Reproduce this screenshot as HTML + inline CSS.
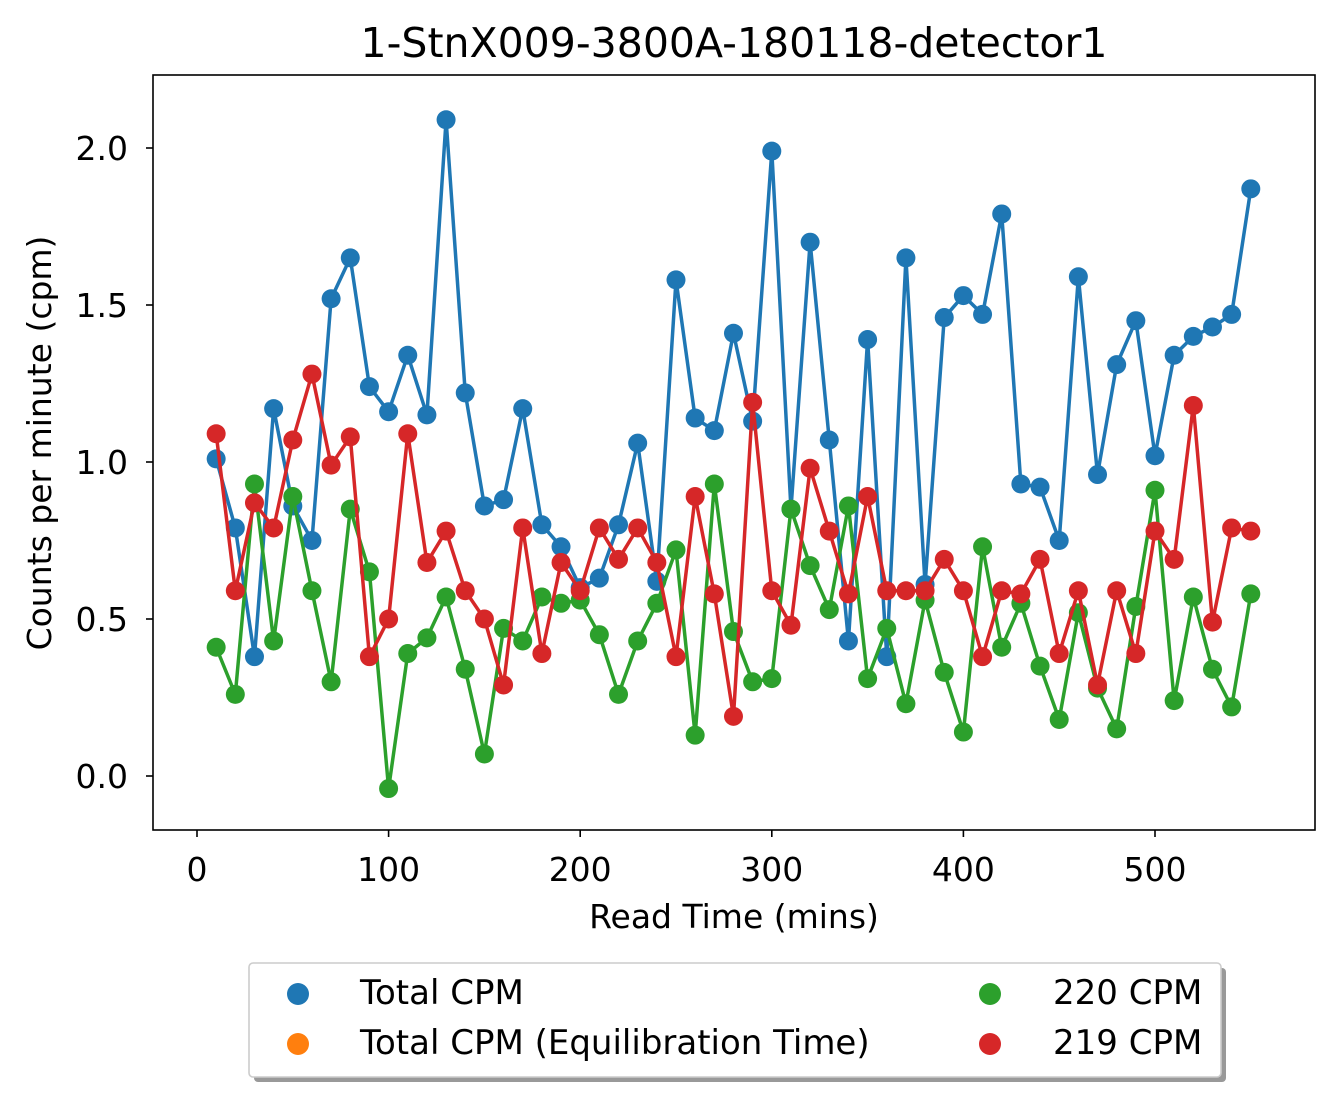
<!DOCTYPE html>
<html><head><meta charset="utf-8"><style>
body{margin:0;background:#fff}
svg{display:block;font-family:"DejaVu Sans","Liberation Sans",sans-serif}
</style></head><body>
<svg id="chart" width="1343" height="1100">
<rect x="0" y="0" width="1343" height="1100" fill="#fff"/>
<text x="734" y="57" font-size="41" text-anchor="middle">1-StnX009-3800A-180118-detector1</text>
<g id="plot"></g>
<rect x="153" y="75" width="1162" height="755" fill="none" stroke="#000" stroke-width="1.6"/>
<g id="xticks"></g>
<g id="yticks"></g>
<text x="734" y="928" font-size="33" text-anchor="middle">Read Time (mins)</text>
<text transform="translate(51,443) rotate(-90)" font-size="33" text-anchor="middle">Counts per minute (cpm)</text>
<g>
<rect x="254" y="968" width="972" height="114" rx="4" fill="#999"/>
<rect x="249" y="963" width="972" height="114" rx="4" fill="#fff" stroke="#ccc" stroke-width="1.6"/>
<g><circle cx="298" cy="994" r="11" fill="#1f77b4"/><text x="360" y="1004" font-size="34">Total CPM</text></g>
<g><circle cx="298" cy="1044" r="11" fill="#ff7f0e"/><text x="360" y="1054" font-size="34">Total CPM (Equilibration Time)</text></g>
<g><circle cx="990" cy="994" r="11" fill="#2ca02c"/><text x="1053" y="1004" font-size="34">220 CPM</text></g>
<g><circle cx="990" cy="1044" r="11" fill="#d62728"/><text x="1053" y="1054" font-size="34">219 CPM</text></g>
</g>
</svg>
<script>
const times=[10,20,30,40,50,60,70,80,90,100,110,120,130,140,150,160,170,180,190,200,210,220,230,240,250,260,270,280,290,300,310,320,330,340,350,360,370,380,390,400,410,420,430,440,450,460,470,480,490,500,510,520,530,540,550];
const totalCpm=[1.01,0.79,0.38,1.17,0.86,0.75,1.52,1.65,1.24,1.16,1.34,1.15,2.09,1.22,0.86,0.88,1.17,0.80,0.73,0.60,0.63,0.80,1.06,0.62,1.58,1.14,1.10,1.41,1.13,1.99,0.85,1.70,1.07,0.43,1.39,0.38,1.65,0.61,1.46,1.53,1.47,1.79,0.93,0.92,0.75,1.59,0.96,1.31,1.45,1.02,1.34,1.40,1.43,1.47,1.87];
const cpm220=[0.41,0.26,0.93,0.43,0.89,0.59,0.30,0.85,0.65,-0.04,0.39,0.44,0.57,0.34,0.07,0.47,0.43,0.57,0.55,0.56,0.45,0.26,0.43,0.55,0.72,0.13,0.93,0.46,0.30,0.31,0.85,0.67,0.53,0.86,0.31,0.47,0.23,0.56,0.33,0.14,0.73,0.41,0.55,0.35,0.18,0.52,0.28,0.15,0.54,0.91,0.24,0.57,0.34,0.22,0.58];
const cpm219=[1.09,0.59,0.87,0.79,1.07,1.28,0.99,1.08,0.38,0.50,1.09,0.68,0.78,0.59,0.50,0.29,0.79,0.39,0.68,0.59,0.79,0.69,0.79,0.68,0.38,0.89,0.58,0.19,1.19,0.59,0.48,0.98,0.78,0.58,0.89,0.59,0.59,0.59,0.69,0.59,0.38,0.59,0.58,0.69,0.39,0.59,0.29,0.59,0.39,0.78,0.69,1.18,0.49,0.79,0.78];
const xTickVals=[0,100,200,300,400,500];
const yTickVals=[0.0,0.5,1.0,1.5,2.0];
const yTickLabels=["0.0","0.5","1.0","1.5","2.0"];
const NS="http://www.w3.org/2000/svg";
function xs(v){return 197+v*1.916;}
function ys(v){return 776-v*314;}
const plot=document.getElementById('plot');
function series(vals,color,name){
  const g=document.createElementNS(NS,'g');
  
  
  const pl=document.createElementNS(NS,'polyline');
  pl.setAttribute('points',vals.map((v,i)=>xs(times[i])+','+ys(v)).join(' '));
  pl.setAttribute('fill','none');pl.setAttribute('stroke',color);pl.setAttribute('stroke-width','3.5');
  
  
  g.appendChild(pl);
  vals.forEach((v,i)=>{
    const c=document.createElementNS(NS,'circle');
    c.setAttribute('cx',xs(times[i]));c.setAttribute('cy',ys(v));c.setAttribute('r','9.5');c.setAttribute('fill',color);
    
    
    g.appendChild(c);
  });
  plot.appendChild(g);
}
series(totalCpm,'#1f77b4','total-cpm-series');
series(cpm220,'#2ca02c','cpm-220-series');
series(cpm219,'#d62728','cpm-219-series');
const xt=document.getElementById('xticks');
xTickVals.forEach(v=>{
  const l=document.createElementNS(NS,'line');
  l.setAttribute('x1',xs(v));l.setAttribute('x2',xs(v));l.setAttribute('y1',830);l.setAttribute('y2',837);l.setAttribute('stroke','#000');l.setAttribute('stroke-width','1.6');
  
  
  xt.appendChild(l);
  const t=document.createElementNS(NS,'text');
  t.setAttribute('x',xs(v));t.setAttribute('y',881);t.setAttribute('font-size','33');t.setAttribute('text-anchor','middle');
  t.textContent=v;
  
  
  xt.appendChild(t);
});
const yt=document.getElementById('yticks');
yTickVals.forEach((v,i)=>{
  const l=document.createElementNS(NS,'line');
  l.setAttribute('x1',146);l.setAttribute('x2',153);l.setAttribute('y1',ys(v));l.setAttribute('y2',ys(v));l.setAttribute('stroke','#000');l.setAttribute('stroke-width','1.6');
  
  
  yt.appendChild(l);
  const t=document.createElementNS(NS,'text');
  t.setAttribute('x',128);t.setAttribute('y',ys(v)+12);t.setAttribute('font-size','33');t.setAttribute('text-anchor','end');
  t.textContent=yTickLabels[i];
  
  
  yt.appendChild(t);
});
</script>
</body></html>
